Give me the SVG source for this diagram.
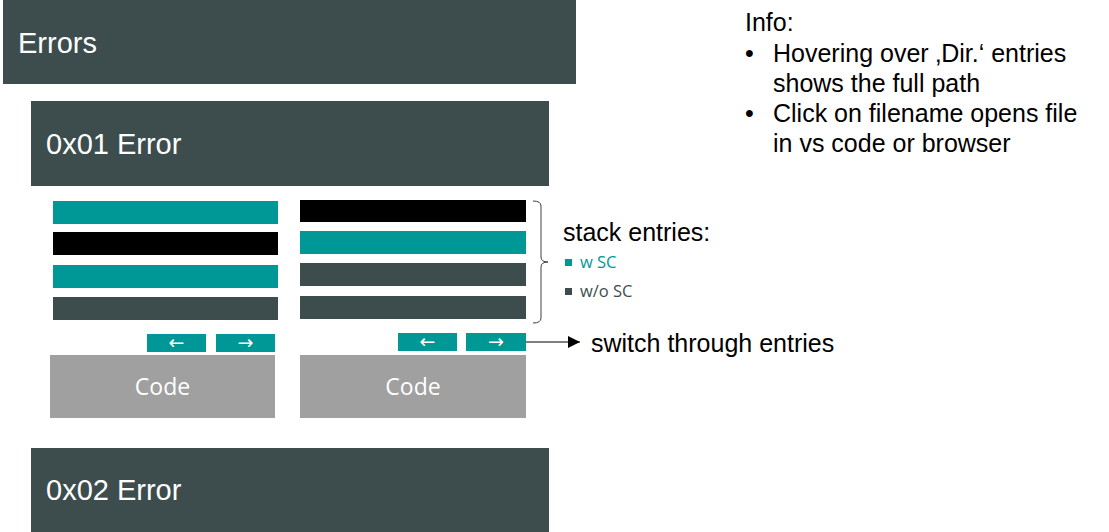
<svg xmlns="http://www.w3.org/2000/svg" width="1109" height="532" viewBox="0 0 1109 532">
<defs>
<style>
.hdr{fill:#3D4D4D}
.teal{fill:#009797}
.blk{fill:#000000}
.dk{fill:#3D4D4D}
.code{fill:#A0A0A0}
.ht{font-family:"Liberation Sans",Arial,sans-serif;font-size:29px;fill:#FFFFFF}
.ct{font-family:"Open Sans","Noto Sans",sans-serif;font-size:23px;fill:#FFFFFF;text-anchor:middle}
.bt{font-family:"DejaVu Sans",sans-serif;font-size:19px;fill:#FFFFFF;text-anchor:middle}
.lt{font-family:"Liberation Sans",Arial,sans-serif;font-size:25px;fill:#000000}
.st{font-family:"Open Sans","Noto Sans",sans-serif;font-size:16.5px}
</style>
<marker id="ah" viewBox="0 0 10 10" refX="10" refY="5" markerWidth="12" markerHeight="12" markerUnits="userSpaceOnUse" orient="auto">
<path d="M0,0 L10,5 L0,10 Z" fill="#000"/>
</marker>
</defs>
<g id="errors"><rect class="hdr" x="3" y="0" width="573" height="84"/><text class="ht" x="18" y="53">Errors</text></g>
<g id="err1"><rect class="hdr" x="31" y="101" width="518" height="85"/><text class="ht" x="46" y="154">0x01 Error</text></g>
<g id="stack-left">
<rect class="teal" x="53" y="201" width="225" height="23"/>
<rect class="blk" x="53" y="232" width="225" height="23"/>
<rect class="teal" x="53" y="265" width="225" height="23"/>
<rect class="dk" x="53" y="297" width="225" height="23"/>
</g>
<g id="stack-right">
<rect class="blk" x="300" y="200" width="226" height="22"/>
<rect class="teal" x="300" y="231" width="226" height="23"/>
<rect class="dk" x="300" y="263" width="226" height="23"/>
<rect class="dk" x="300" y="296" width="226" height="23"/>
</g>
<g id="btns-left">
<rect class="teal" x="147" y="334" width="59" height="18"/><text class="bt" x="176.5" y="349">←</text>
<rect class="teal" x="216" y="334" width="59" height="18"/><text class="bt" x="245.5" y="349">→</text>
</g>
<g id="btns-right">
<rect class="teal" x="398" y="333" width="59" height="18"/><text class="bt" x="427.5" y="348">←</text>
<rect class="teal" x="466" y="333" width="60" height="18"/><text class="bt" x="496" y="348">→</text>
</g>
<g id="code-left"><rect class="code" x="50" y="355" width="225" height="63"/><text class="ct" x="162.5" y="395">Code</text></g>
<g id="code-right"><rect class="code" x="300" y="355" width="226" height="63"/><text class="ct" x="413" y="395">Code</text></g>
<g id="err2"><rect class="hdr" x="31" y="448" width="518" height="84"/><text class="ht" x="46" y="500">0x02 Error</text></g>
<g id="legend">
<text class="lt" x="563" y="241">stack entries:</text>
<rect x="565" y="259" width="7" height="7" fill="#009797"/>
<text class="st" x="580" y="268" fill="#009797">w SC</text>
<rect x="565" y="288" width="7" height="7" fill="#3D4D4D"/>
<text class="st" x="580" y="297" fill="#3D4D4D">w/o SC</text>
<text class="lt" x="591" y="352">switch through entries</text>
</g>
<g id="info">
<text class="lt" x="745" y="31">Info:</text>
<text class="lt" x="745" y="62">•</text><text class="lt" x="773" y="62">Hovering over ‚Dir.‘ entries</text>
<text class="lt" x="773" y="92">shows the full path</text>
<text class="lt" x="745" y="122">•</text><text class="lt" x="773" y="122">Click on filename opens file</text>
<text class="lt" x="773" y="152">in vs code or browser</text>
</g>
<g id="connectors" fill="none" stroke="#000" stroke-width="1">
<path d="M533,201 Q541,201 541,206 L541,257 Q541,262 548,262 Q541,262 541,267 L541,318 Q541,323 533,323" stroke="#404040"/>
<line x1="526" y1="342" x2="580" y2="342" marker-end="url(#ah)"/>
</g>
</svg>
